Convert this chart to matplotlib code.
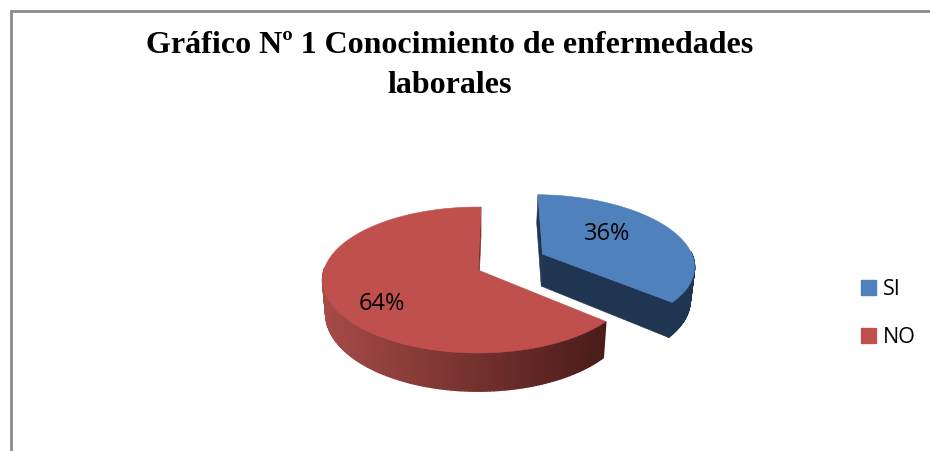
import numpy as np
import matplotlib
matplotlib.use("Agg")
import matplotlib.pyplot as plt
from matplotlib.patches import Polygon, Patch
from matplotlib.colors import to_rgb

title_lines = ["Gráfico Nº 1 Conocimiento de enfermedades", "laborales"]
categories = ["SI", "NO"]
shares = [36, 64]
top_colors = ["#4F81BD", "#C0504D"]

# pie projection, in pixels of the figure
x0, y0 = 478, 270
rx, ry = 154, 71.6
persp = 0.137
depth = 33
low_scale = 0.98
start_deg = 1.3
explode = (0.432, 0.229)


def project(u, v, low=False):
    d = 1 + persp * v
    x = rx * u / d
    y = -ry * v / d
    if low:
        return x0 + x * low_scale, y0 + y + depth / d
    return x0 + x, y0 + y


def arc(a, b, off=(0, 0), n=160):
    t = np.radians(np.linspace(a, b, n))
    return np.sin(t) + off[0], np.cos(t) + off[1]


def poly(ax, xs, ys, color, z, lw=0.4):
    ax.add_patch(Polygon(np.column_stack([xs, ys]), closed=True, fc=color, ec=color, lw=lw, zorder=z))


def mix(c1, c2, t):
    a, b = np.array(to_rgb(c1)), np.array(to_rgb(c2))
    return tuple(a + (b - a) * t)


def side(ax, a, b, off, c_left, c_right, z):
    # outer wall, only the part that faces the viewer, in thin slices
    u, v = arc(a, b, off, 120)
    xt, yt = project(u, v)
    xb, yb = project(u, v, low=True)
    xmin, xmax = xt.min(), xt.max()
    for i in range(len(u) - 1):
        c = mix(c_left, c_right, ((xt[i] - xmin) / (xmax - xmin)))
        poly(ax, [xt[i], xt[i + 1], xb[i + 1], xb[i]], [yt[i], yt[i + 1], yb[i + 1], yb[i]], c, z, lw=1.0)


def top(ax, a, b, off, color, z):
    u, v = arc(a, b, off)
    xs, ys = project(np.r_[off[0], u], np.r_[off[1], v])
    poly(ax, xs, ys, color, z)


fig = plt.figure(figsize=(9.3, 4.51), dpi=100)
ax = fig.add_axes([0, 0, 1, 1])
ax.set_xlim(0, 930)
ax.set_ylim(451, 0)
ax.axis("off")

# chart frame, cut off at right and bottom
ax.plot([11, 11, 930], [451, 11, 11], color="#8C8C8C", lw=2.0, solid_joinstyle="miter", zorder=1)

end_si = start_deg + shares[0] / sum(shares) * 360
end_no = start_deg + 360

# SI slice: cut face, wall, top
ue, ve = np.sin(np.radians(end_si)) + explode[0], np.cos(np.radians(end_si)) + explode[1]
us, vs = np.sin(np.radians(start_deg)) + explode[0], np.cos(np.radians(start_deg)) + explode[1]
xa, ya = project(*explode)
xa2, ya2 = project(*explode, low=True)
xe, ye = project(ue, ve)
xe2, ye2 = project(ue, ve, low=True)
xs1, ys1 = project(us, vs)
xs2, ys2 = project(us, vs, low=True)
poly(ax, [xa, xs1, xs2, xa2], [ya, ys1, ys2, ya2], "#1F3552", 2)
side(ax, 88, end_si, explode, "#1F3552", "#1F3552", 3)
poly(ax, [xa, xe, xe2, xa2], [ya, ye, ye2, ya2], "#1F3552", 4)
top(ax, start_deg, end_si, explode, top_colors[0], 5)

# NO slice
us, vs = np.sin(np.radians(start_deg)), np.cos(np.radians(start_deg))
xs1, ys1 = project(us, vs)
xs2, ys2 = project(us, vs, low=True)
xa2, ya2 = project(0, 0, low=True)
poly(ax, [x0, xs1, xs2, xa2], [y0, ys1, ys2, ya2], "#7A302D", 6)
side(ax, end_si, 272, (0, 0), "#A64B47", "#4A1C1A", 7)
top(ax, end_si, end_no, (0, 0), top_colors[1], 8)

for i, line in enumerate(title_lines):
    ax.text(450, 53 + 40 * i, line, family="Liberation Serif", weight="bold", fontsize=23,
            ha="center", va="baseline", color="black", zorder=10)

# percent labels
ax.text(607, 234, f"{shares[0]}%", family="Open Sans", fontsize=17, ha="center", va="center", color="black", zorder=10)
ax.text(382, 304, f"{shares[1]}%", family="Open Sans", fontsize=17, ha="center", va="center", color="black", zorder=10)

handles = [Patch(fc=c, ec=c) for c in top_colors]
ax.legend(handles, categories, loc="center left", bbox_to_anchor=(861 / 930, 1 - 313.5 / 451), frameon=False,
          prop={"family": "Open Sans", "size": 15.5}, handlelength=0.7, handleheight=0.7,
          handletextpad=0.3, labelspacing=1.25, borderpad=0, borderaxespad=0)

fig.savefig("out.png", dpi=100)
